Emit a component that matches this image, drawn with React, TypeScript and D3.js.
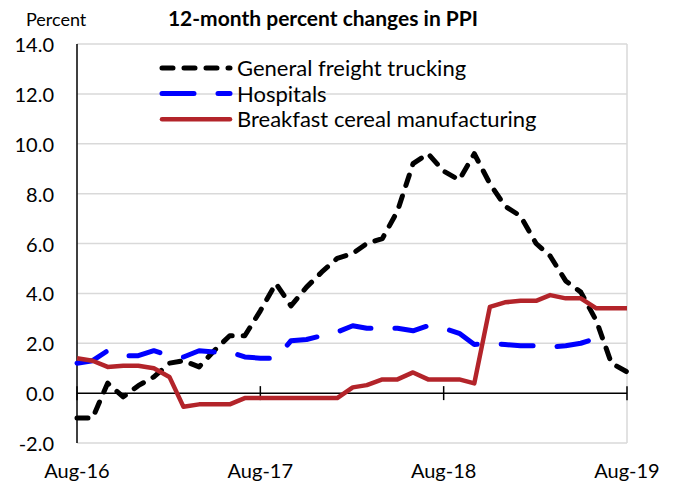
import React from "react";
import * as d3 from "d3";

const months = d3.range(37).map((i) => new Date(2016, 7 + i, 1));
const tickLabels = ["Aug-16", "Aug-17", "Aug-18", "Aug-19"];
const yTicks = [-2, 0, 2, 4, 6, 8, 10, 12, 14];

const trucking = [
  -1.0, -1.0, 0.4, -0.15, 0.3, 0.65, 1.2, 1.3, 1.05, 1.7, 2.3, 2.3, 3.3, 4.4, 3.5, 4.25, 4.85, 5.4, 5.6, 6.0,
  6.2, 7.3, 9.2, 9.6, 8.9, 8.55, 9.6, 8.4, 7.5, 7.1, 6.0, 5.5, 4.5, 4.05, 2.9, 1.2, 0.85,
];
const hospitals = [
  1.2, 1.3, 1.7, 1.5, 1.5, 1.7, 1.5, 1.45, 1.7, 1.65, 1.65, 1.45, 1.4, 1.4, 2.1, 2.15, 2.3, 2.45, 2.7, 2.6,
  2.6, 2.6, 2.5, 2.7, 2.6, 2.4, 1.95, 2.0, 1.95, 1.9, 1.9, 1.85, 1.9, 2.0, 2.2, 2.1,
];
const cereal = [
  1.4, 1.3, 1.05, 1.1, 1.1, 1.0, 0.65, -0.55, -0.45, -0.45, -0.45, -0.2, -0.2, -0.2, -0.2, -0.2, -0.2, -0.2,
  0.23, 0.32, 0.55, 0.55, 0.83, 0.55, 0.55, 0.55, 0.39, 3.46, 3.64, 3.7, 3.7, 3.93, 3.8, 3.8, 3.4, 3.4, 3.4,
];

const seriesNames = ["General freight trucking", "Hospitals", "Breakfast cereal manufacturing"];

const FONT = "Lato, 'Open Sans', sans-serif";

export default function App() {
  const W = 675;
  const H = 482;
  const left = 77;
  const right = 627;
  const top = 44;
  const bottom = 443;

  const x = d3.scaleTime().domain([months[0], months[36]]).range([left, right]);
  const y = d3.scaleLinear().domain([-2, 14]).range([bottom, top]);

  const line = d3
    .line<number>()
    .x((_, i) => x(months[i]))
    .y((d) => y(d));

  const styles = [
    { color: "#000000", dash: "11 11", width: 5 },
    { color: "#0000FF", dash: "32 24", width: 5 },
    { color: "#B3242A", dash: null as string | null, width: 4.5 },
  ];
  const data = [trucking, hospitals, cereal];
  const xTickDates = [months[0], months[12], months[24], months[36]];

  return (
    <svg
      width={W}
      height={H}
      style={{ position: "absolute", left: 0, top: 0, background: "#fff" }}
      fontFamily={FONT}
    >
      {yTicks.map((t) =>
        t === 0 || t === -2 ? null : (
          <line key={t} x1={left} x2={right} y1={y(t)} y2={y(t)} stroke="#d9d9d9" strokeWidth={1.5} />
        )
      )}
      <line x1={left} x2={right} y1={bottom} y2={bottom} stroke="#d9d9d9" strokeWidth={1.5} />
      <line x1={right} x2={right} y1={top} y2={bottom} stroke="#d9d9d9" strokeWidth={1.5} />
      <line x1={left} x2={left} y1={top} y2={bottom} stroke="#000" strokeWidth={1.5} />
      {yTicks.map((t) => (
        <text key={t} x={54} y={y(t) + 8} fontSize={20} textAnchor="end" fill="#000">
          {t.toFixed(1)}
        </text>
      ))}
      <line x1={left} x2={right} y1={y(0)} y2={y(0)} stroke="#000" strokeWidth={1.5} />
      {xTickDates.map((d, i) => (
        <g key={i}>
          <line x1={x(d)} x2={x(d)} y1={y(0) - 7} y2={y(0) + 7} stroke="#000" strokeWidth={1.5} />
          <text x={x(d)} y={478} fontSize={20} textAnchor="middle" fill="#000">
            {tickLabels[i]}
          </text>
        </g>
      ))}
      {data.map((s, k) => (
        <path
          key={k}
          d={line(s) || ""}
          fill="none"
          stroke={styles[k].color}
          strokeWidth={styles[k].width}
          strokeDasharray={styles[k].dash || undefined}
          strokeLinecap={styles[k].dash ? "round" : "butt"}
          strokeLinejoin="round"
        />
      ))}
      {seriesNames.map((n, k) => {
        const ly = 68 + k * 25.6;
        return (
          <g key={n}>
            <line
              x1={162}
              x2={230}
              y1={ly}
              y2={ly}
              stroke={styles[k].color}
              strokeWidth={styles[k].width}
              strokeDasharray={styles[k].dash || undefined}
              strokeLinecap="round"
            />
            <text x={237} y={ly + 8} fontSize={22} fill="#000">
              {n}
            </text>
          </g>
        );
      })}
      <text x={323} y={26} fontSize={21} fontWeight="bold" textAnchor="middle" fill="#000">
        12-month percent changes in PPI
      </text>
      <text x={26} y={26} fontSize={18} fill="#000">
        Percent
      </text>
    </svg>
  );
}
